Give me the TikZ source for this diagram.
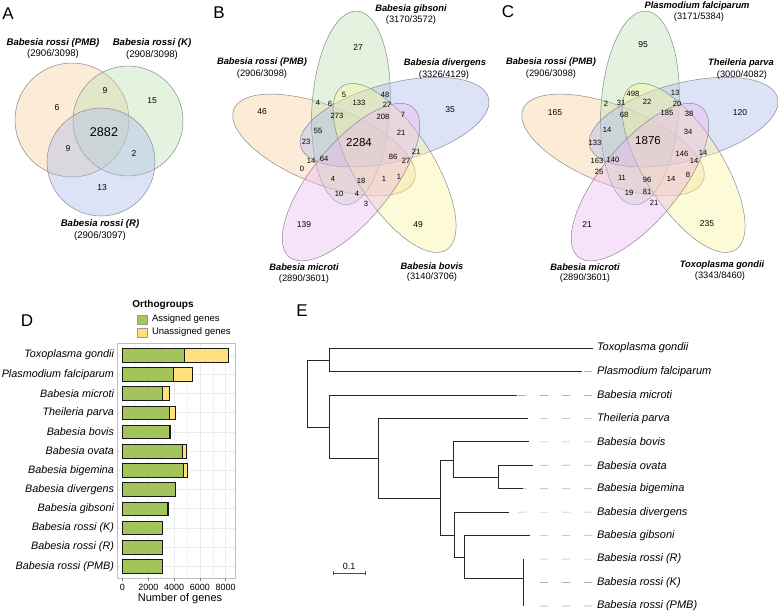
\documentclass[tikz,border=0pt]{standalone}
\usepackage{fontspec}
\setmainfont{Liberation Sans}
\begin{document}
\begin{tikzpicture}[x=1pt,y=-1pt,
  txt/.style={inner sep=0pt,outer sep=0pt},
  vlab/.style={txt,font=\fontsize{9.3}{10}\selectfont\bfseries\itshape},
  vcnt/.style={txt,font=\fontsize{9.3}{10}\selectfont},
  vlabA/.style={txt,font=\fontsize{9.6}{10}\selectfont\bfseries\itshape},
  vcntA/.style={txt,font=\fontsize{9.6}{10}\selectfont},
  num/.style={txt,font=\fontsize{7.6}{8}\selectfont},
  numS/.style={txt,font=\fontsize{8.5}{9}\selectfont},
  numC/.style={txt,font=\fontsize{11.5}{12}\selectfont},
  numCA/.style={txt,font=\fontsize{12.6}{13}\selectfont},
  panel/.style={txt,font=\fontsize{17}{18}\selectfont},
  vset/.style={draw=vborder,line width=0.5pt,fill opacity=0.4,draw opacity=1},
  tip/.style={txt,anchor=west,font=\fontsize{11}{12}\selectfont\itshape},
  ylab/.style={txt,anchor=east,font=\fontsize{10.8}{12}\selectfont\itshape},
  branch/.style={line width=0.8pt,draw=black!85},
  guide/.style={draw=black!30,line width=0.6pt,dash pattern=on 8pt off 14pt},
  bar/.style={draw=black!90,line width=0.6pt},
  grid/.style={draw=black!8,line width=0.5pt},
  gridm/.style={draw=black!5,line width=0.3pt}
]
\definecolor{vborder}{HTML}{8A8A8A}
\definecolor{cOr}{HTML}{F7CD9D}
\definecolor{cGr}{HTML}{BBE1B1}
\definecolor{cBl}{HTML}{AAB9ED}
\definecolor{cPu}{HTML}{EBB9F2}
\definecolor{cYe}{HTML}{FAF59D}
\definecolor{barG}{HTML}{A3C45A}
\definecolor{barY}{HTML}{FFE07A}
\useasboundingbox[fill=white] (0,0) rectangle (778,614);

% ---------------- Panel A ----------------
\node[panel] (pA) at (8,14) {A};
\draw[vset,fill=cOr] (72,120) circle [radius=57pt];
\draw[vset,fill=cGr] (128,121) circle [radius=55pt];
\draw[vset,fill=cBl] (101,162) circle [radius=54pt];
\node[vlabA] (aL1) at (53,43) {Babesia rossi (PMB)};
\node[vcntA] (aC1) at (53,54) {(2906/3098)};
\node[vlabA] (aL2) at (152,43) {Babesia rossi (K)};
\node[vcntA] (aC2) at (152,55) {(2908/3098)};
\node[vlabA] (aL3) at (100,224) {Babesia rossi (R)};
\node[vcntA] (aC3) at (100,236) {(2906/3097)};
\node[numS] (an1) at (57,108) {6};
\node[numS] (an2) at (105,91) {9};
\node[numS] (an3) at (152,101) {15};
\node[numCA] (an4) at (104,132) {2882};
\node[numS] (an5) at (68,149) {9};
\node[numS] (an6) at (134,154) {2};
\node[numS] (an7) at (102,188) {13};

% ---------------- Panel B ----------------
\node[panel] (pB) at (219,13) {B};
\def\ea{97pt}\def\eb{39pt}
\draw[vset,fill=cOr,rotate around={158.4:(324,145)}] (324,145) ellipse [x radius=\ea, y radius=\eb];
\draw[vset,fill=cGr,rotate around={86.4:(350.95,107.91)}] (350.95,107.91) ellipse [x radius=\ea, y radius=\eb];
\draw[vset,fill=cBl,rotate around={14.4:(394.55,122.08)}] (394.55,122.08) ellipse [x radius=\ea, y radius=\eb];
\draw[vset,fill=cYe,rotate around={-57.6:(394.55,167.92)}] (394.55,167.92) ellipse [x radius=\ea, y radius=\eb];
\draw[vset,fill=cPu,rotate around={230.4:(350.95,182.09)}] (350.95,182.09) ellipse [x radius=\ea, y radius=\eb];
\node[vlab] (bL1) at (411,9) {Babesia gibsoni};
\node[vcnt] (bC1) at (411,20) {(3170/3572)};
\node[vlab] (bL2) at (262,62) {Babesia rossi (PMB)};
\node[vcnt] (bC2) at (262,74) {(2906/3098)};
\node[vlab] (bL3) at (445,63) {Babesia divergens};
\node[vcnt] (bC3) at (444,75) {(3326/4129)};
\node[vlab] (bL4) at (304,267) {Babesia microti};
\node[vcnt] (bC4) at (304,279) {(2890/3601)};
\node[vlab] (bL5) at (432,266) {Babesia bovis};
\node[vcnt] (bC5) at (432,277) {(3140/3706)};
\foreach \x/\y/\t [count=\i] in {318/103/4, 330/104/6, 344/95/5, 385/95/48, 359/103/133, 387/105/27, 337/116/273, 383/117/208, 403/115/7, 318/131/55, 401/133/21, 306/142/23, 393/157/86, 416/152/21, 406/161/27, 311/161/14, 324/159/64, 302/169/0, 333/179/4, 361/181/18, 384/179/1, 399/177/1, 339/194/10, 357/194/4, 366/204/3}
  \node[num] (bn\i) at (\x,\y) {\t};
\foreach \x/\y/\t [count=\i] in {358/48/27, 262/112/46, 450/110/35, 304/225/139, 418/225/49}
  \node[numS] (bs\i) at (\x,\y) {\t};
\node[numC] (bcen) at (359,143) {2284};

% ---------------- Panel C ----------------
\node[panel] (pC) at (508,12) {C};
\draw[vset,fill=cOr,rotate around={158.4:(613,145)}] (613,145) ellipse [x radius=\ea, y radius=\eb];
\draw[vset,fill=cGr,rotate around={86.4:(639.95,107.91)}] (639.95,107.91) ellipse [x radius=\ea, y radius=\eb];
\draw[vset,fill=cBl,rotate around={14.4:(683.55,122.08)}] (683.55,122.08) ellipse [x radius=\ea, y radius=\eb];
\draw[vset,fill=cYe,rotate around={-57.6:(683.55,167.92)}] (683.55,167.92) ellipse [x radius=\ea, y radius=\eb];
\draw[vset,fill=cPu,rotate around={230.4:(639.95,182.09)}] (639.95,182.09) ellipse [x radius=\ea, y radius=\eb];
\node[vlab] (cL1) at (697,6) {Plasmodium falciparum};
\node[vcnt] (cC1) at (699,17) {(3171/5384)};
\node[vlab] (cL2) at (551,62) {Babesia rossi (PMB)};
\node[vcnt] (cC2) at (551,74) {(2906/3098)};
\node[vlab] (cL3) at (741,63) {Theileria parva};
\node[vcnt] (cC3) at (742,75) {(3000/4082)};
\node[vlab] (cL4) at (585,267) {Babesia microti};
\node[vcnt] (cC4) at (585,278) {(2890/3601)};
\node[vlab] (cL5) at (722,265) {Toxoplasma gondii};
\node[vcnt] (cC5) at (720,276) {(3343/8460)};
\foreach \x/\y/\t [count=\i] in {606/104/2, 621/103/31, 633/94/498, 675/93/13, 647/102/22, 677/104/20, 624/115/68, 667/113/185, 689/114/38, 607/130/14, 688/132/34, 595/143/133, 682/154/146, 703/153/14, 694/161/14, 597/161/163, 613/160/140, 599/172/25, 622/178/11, 647/180/96, 671/179/14, 688/175/8, 629/193/19, 647/192/81, 654/203/21}
  \node[num] (cn\i) at (\x,\y) {\t};
\foreach \x/\y/\t [count=\i] in {643/45/95, 555/113/165, 740/113/120, 707/224/235, 587/225/21}
  \node[numS] (cs\i) at (\x,\y) {\t};
\node[numC] (ccen) at (648,141) {1876};

% ---------------- Panel D ----------------
\node[panel] (pD) at (27,321) {D};
\node[txt,font=\fontsize{10}{11}\selectfont\bfseries] (dT) at (163,305) {Orthogroups};
\draw[fill=barG,draw=black!40,line width=0.4pt] (137,315) rectangle (147,324);
\draw[fill=barY,draw=black!40,line width=0.4pt] (137,328) rectangle (147,337);
\node[txt,anchor=west,font=\fontsize{9.5}{10}\selectfont] (dl1) at (152,319.5) {Assigned genes};
\node[txt,anchor=west,font=\fontsize{9.5}{10}\selectfont] (dl2) at (152,332.5) {Unassigned genes};
% grid
\foreach \v in {1000,3000,5000,7000}
  \draw[gridm] ({122.5+0.0129*\v},343) -- ({122.5+0.0129*\v},578);
\foreach \v in {0,2000,4000,6000,8000}
  \draw[grid] ({122.5+0.0129*\v},343) -- ({122.5+0.0129*\v},578);
\foreach \i in {0,...,11}
  \draw[grid] (117,{355+19.2*\i}) -- (235,{355+19.2*\i});
\draw[draw=black!25,line width=0.5pt] (117,343) rectangle (235,578);
\foreach \v in {0,2000,4000,6000,8000}{
  \draw[draw=black!50,line width=0.5pt] ({122.5+0.0129*\v},578) -- ({122.5+0.0129*\v},581);
  \node[txt,font=\fontsize{9}{10}\selectfont] (dx\v) at ({122.5+0.0129*\v},587) {\v};
}
\node[txt,font=\fontsize{11}{12}\selectfont] (dxl) at (180,599) {Number of genes};
\foreach \n/\a/\t [count=\i from 0] in {Toxoplasma gondii/4800/8170, Plasmodium falciparum/3950/5384, Babesia microti/3100/3601, Theileria parva/3650/4082, Babesia bovis/3650/3706, Babesia ovata/4650/4960, Babesia bigemina/4750/5050, Babesia divergens/4060/4129, Babesia gibsoni/3500/3572, Babesia rossi (K)/3050/3098, Babesia rossi (R)/3050/3097, Babesia rossi (PMB)/3050/3098}{
  \pgfmathsetmacro{\yc}{355+19.2*\i}
  \draw[bar,fill=barY] ({122.5+0.0129*\a},\yc-6.8) rectangle ({122.5+0.0129*\t},\yc+6.8);
  \draw[bar,fill=barG] (122.5,\yc-6.8) rectangle ({122.5+0.0129*\a},\yc+6.8);
  \node[ylab] (dy\i) at (114,\yc) {\n};
}

% ---------------- Panel E ----------------
\node[panel] (pE) at (302,311) {E};
\def\tx{597}
\foreach \nm/\t [count=\i from 0] in {tT/Toxoplasma gondii, tP/Plasmodium falciparum, tMi/Babesia microti, tTh/Theileria parva, tBo/Babesia bovis, tOv/Babesia ovata, tBi/Babesia bigemina, tDv/Babesia divergens, tGi/Babesia gibsoni, tR/Babesia rossi (R), tK/Babesia rossi (K), tPM/Babesia rossi (PMB)}
  \node[tip] (\nm) at (\tx,{348+23.45*\i}) {\t};
% internal nodes
\coordinate (root) at (307,360);
\coordinate (n1) at (329,360);
\coordinate (n2) at (329,427);
\coordinate (n3) at (378,458);
\coordinate (n4) at (440,498);
\coordinate (n5) at (453,460);
\coordinate (n6) at (498,477);
\coordinate (n7) at (454,535);
\coordinate (n8) at (464,557);
\coordinate (n9) at (523,578);
% tip ends
\coordinate (eT) at (593,348);
\coordinate (eP) at (582,371.45);
\coordinate (eMi) at (517,394.9);
\coordinate (eTh) at (528,418.35);
\coordinate (eBo) at (529,441.8);
\coordinate (eOv) at (533,465.25);
\coordinate (eBi) at (523,488.7);
\coordinate (eDv) at (509,512.15);
\coordinate (eGi) at (530,535.6);
\coordinate (eR) at (523,559.05);
\coordinate (eK) at (523,582.5);
\coordinate (ePM) at (523,605.95);
\draw[branch] (root |- n1) -- (root |- n2);
\draw[branch] (root |- n1) -- (n1);
\draw[branch] (root |- n2) -- (n2);
\draw[branch] (n1 |- eT) -- (n1 |- eP);
\draw[branch] (n1 |- eT) -- (eT);
\draw[branch] (n1 |- eP) -- (eP);
\draw[branch] (n2 |- eMi) -- (n2 |- n3);
\draw[branch] (n2 |- eMi) -- (eMi);
\draw[branch] (n2 |- n3) -- (n3);
\draw[branch] (n3 |- eTh) -- (n3 |- n4);
\draw[branch] (n3 |- eTh) -- (eTh);
\draw[branch] (n3 |- n4) -- (n4);
\draw[branch] (n4 |- n5) -- (n4 |- n7);
\draw[branch] (n4 |- n5) -- (n5);
\draw[branch] (n4 |- n7) -- (n7);
\draw[branch] (n5 |- eBo) -- (n5 |- n6);
\draw[branch] (n5 |- eBo) -- (eBo);
\draw[branch] (n5 |- n6) -- (n6);
\draw[branch] (n6 |- eOv) -- (n6 |- eBi);
\draw[branch] (n6 |- eOv) -- (eOv);
\draw[branch] (n6 |- eBi) -- (eBi);
\draw[branch] (n7 |- eDv) -- (n7 |- n8);
\draw[branch] (n7 |- eDv) -- (eDv);
\draw[branch] (n7 |- n8) -- (n8);
\draw[branch] (n8 |- eGi) -- (n8 |- n9);
\draw[branch] (n8 |- eGi) -- (eGi);
\draw[branch] (n8 |- n9) -- (n9);
\draw[branch] (eR) -- (ePM);
% guide dashes
\foreach \nm/\e in {tP/eP, tMi/eMi, tTh/eTh, tBo/eBo, tOv/eOv, tBi/eBi, tDv/eDv, tGi/eGi}
  \draw[guide] ([xshift=-5pt]\nm.west) -- (\e);
\foreach \nm/\e in {tR/eR, tK/eK, tPM/ePM}
  \draw[guide] ([xshift=-5pt]\nm.west) -- ([xshift=10pt]\e);
% scale bar
\coordinate (sb1) at (333,573);
\coordinate (sb2) at (365,573);
\draw[line width=0.6pt,draw=black!70] (sb1) -- (sb2);
\draw[line width=0.6pt,draw=black!70] ([yshift=-2pt]sb1) -- ([yshift=2pt]sb1);
\draw[line width=0.6pt,draw=black!70] ([yshift=-2pt]sb2) -- ([yshift=2pt]sb2);
\node[txt,font=\fontsize{9}{10}\selectfont] (sbl) at (349,566) {0.1};
\end{tikzpicture}
\end{document}
